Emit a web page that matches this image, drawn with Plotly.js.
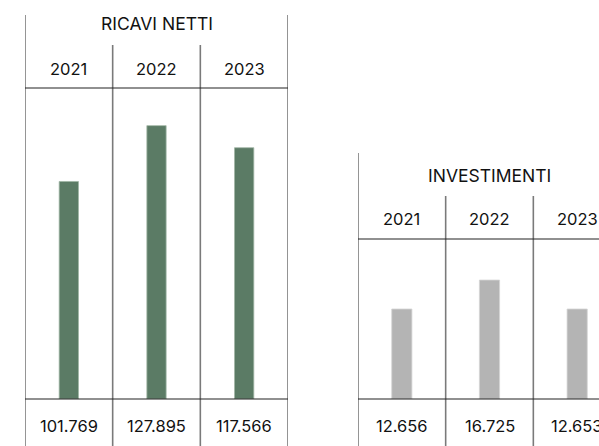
<!DOCTYPE html>
<html><head><meta charset="utf-8">
<script src="https://cdn.plot.ly/plotly-3.0.1.min.js"></script>
<style>html,body{margin:0;padding:0;background:#fff}#c{width:599px;height:446px}</style>
</head><body><div id="c"></div>
<script>
const years = ['2021', '2022', '2023'];
const ricaviNetti = [101769, 127895, 117566];
const investimenti = [12656, 16725, 12653];
const titleRicavi = 'RICAVI NETTI';
const titleInvest = 'INVESTIMENTI';

const W = 599, H = 446;
const px = x => x / W;
const py = y => 1 - y / H;
const fmt = v => v.toString().replace(/\B(?=(\d{3})+(?!\d))/g, '.');
const FONT = 'Inter';
const TXT = '#111';

const traces = [
  {type: 'bar', x: years, y: ricaviNetti, xaxis: 'x', yaxis: 'y', width: 0.22,
   marker: {color: '#5b7b65', line: {color: '#9fb5a5', width: 0.8}}, hoverinfo: 'skip'},
  {type: 'bar', x: years, y: investimenti, xaxis: 'x2', yaxis: 'y2', width: 0.23,
   marker: {color: '#b4b4b4', line: {color: '#d4d4d4', width: 0.8}}, hoverinfo: 'skip'}
];

const ann = [];
const shapes = [];
function panel(xr, title, titleY, yearsY, valsY, vals, outerTop, innerTop, headLineY) {
  const f = {family: FONT, size: 16.5, color: TXT};
  const ft = {family: FONT, size: 17.5, color: TXT};
  ann.push({xref: xr, yref: 'paper', x: 1, y: py(titleY), text: title, showarrow: false,
            font: ft, yanchor: 'middle'});
  years.forEach((yr, i) => {
    ann.push({xref: xr, yref: 'paper', x: i, y: py(yearsY), text: yr, showarrow: false,
              font: f, yanchor: 'middle'});
    ann.push({xref: xr, yref: 'paper', x: i, y: py(valsY), text: fmt(vals[i]), showarrow: false,
              font: f, yanchor: 'middle'});
  });
  const vcol = '#7a7a7a';
  [-0.5, 2.5].forEach(b => shapes.push({type: 'line', xref: xr, yref: 'paper', x0: b, x1: b,
      y0: py(outerTop), y1: py(H + 2), line: {color: vcol, width: 1.6}}));
  [0.5, 1.5].forEach(b => shapes.push({type: 'line', xref: xr, yref: 'paper', x0: b, x1: b,
      y0: py(innerTop), y1: py(H + 2), line: {color: vcol, width: 1.6}}));
  [headLineY, 399].forEach(yy => shapes.push({type: 'line', xref: xr, yref: 'paper', x0: -0.5, x1: 2.5,
      y0: py(yy), y1: py(yy), line: {color: '#222', width: 1.2}}));
}
panel('x', titleRicavi, 23, 68.5, 426, ricaviNetti, 15, 45, 88);
panel('x2', titleInvest, 175, 218.5, 426, investimenti, 153, 196, 239);

const cellW = (288 - 25) / 3;
const axBase = {type: 'category', showgrid: false, showticklabels: false, zeroline: false,
                showline: false, ticks: '', fixedrange: true};
const layout = {
  width: W, height: H, margin: {l: 0, r: 0, t: 0, b: 0},
  paper_bgcolor: '#fff', plot_bgcolor: 'rgba(0,0,0,0)', showlegend: false,
  xaxis: Object.assign({}, axBase, {domain: [px(25), px(288)], range: [-0.5, 2.5], anchor: 'y'}),
  xaxis2: Object.assign({}, axBase, {domain: [px(358), 1], range: [-0.5, -0.5 + (W - 358) / cellW], anchor: 'y2'}),
  yaxis: {domain: [py(399), py(88)], range: [0, 145500], showgrid: false, showticklabels: false,
          zeroline: false, showline: false, ticks: '', anchor: 'x'},
  yaxis2: {domain: [py(399), py(239)], range: [0, 22500], showgrid: false, showticklabels: false,
           zeroline: false, showline: false, ticks: '', anchor: 'x2'},
  annotations: ann, shapes: shapes
};
Plotly.newPlot('c', traces, layout, {displayModeBar: false, staticPlot: true});
</script></body></html>
